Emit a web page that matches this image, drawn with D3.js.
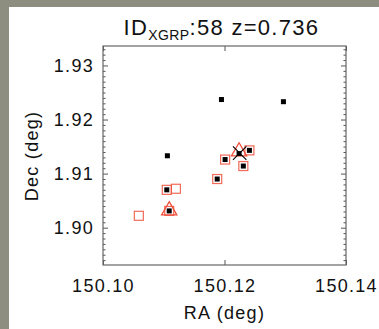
<!DOCTYPE html>
<html>
<head>
<meta charset="utf-8">
<script src="https://cdn.jsdelivr.net/npm/d3@7"></script>
<style>
  body { margin: 0; background: #8d8e80; }
  #wrapper { position: absolute; left: 9px; top: 7px; width: 370px; height: 322px; background: #fff; }
  svg { position: absolute; left: 0; top: 0; }
  text { font-family: "Liberation Sans", Arial, sans-serif; fill: #111; }
</style>
</head>
<body>
<div id="wrapper"></div>
<script>
// members (black filled squares)
const memberRA  = [150.1195, 150.1297, 150.1106, 150.1105, 150.1109, 150.1201, 150.1241, 150.1224, 150.1231, 150.1188]
const memberDec = [1.9237, 1.9233, 1.9133, 1.9070, 1.9031, 1.9126, 1.9143, 1.9137, 1.9114, 1.9090]
// red open squares
const specRA  = [150.1105, 150.1109, 150.1201, 150.1241, 150.1231, 150.1188, 150.1120, 150.1059]
const specDec = [1.9070, 1.9031, 1.9126, 1.9143, 1.9114, 1.9090, 1.9072, 1.9022]
// red triangles
const triRA  = [150.1109, 150.1224]
const triDec = [1.9030, 1.9139]
// black cross (centre)
const crossRA  = [150.1225]
const crossDec = [1.9138]

const xTicks = [150.10, 150.12, 150.14]
const yTicks = [1.90, 1.91, 1.92, 1.93]
const title = { main: "ID", sub: "XGRP", rest: ":58 z=0.736" }

async function drawChart() {
    let dimensions = {
        width: 370,
        height: 322,
        margins: { top: 39, right: 33, bottom: 64, left: 94 }
    }
    dimensions.boundedWidth = dimensions.width - dimensions.margins.left - dimensions.margins.right
    dimensions.boundedHeight = dimensions.height - dimensions.margins.top - dimensions.margins.bottom

    const wrapper = d3.select("#wrapper")
        .append("svg")
            .attr("width", dimensions.width)
            .attr("height", dimensions.height)

    const bounds = wrapper.append("g")
        .attr("transform", `translate(${dimensions.margins.left},${dimensions.margins.top})`)

    const xScale = d3.scaleLinear()
        .domain([150.10, 150.14])
        .range([0, dimensions.boundedWidth])
    const yScale = d3.scaleLinear()
        .domain([1.8931, 1.9336])
        .range([dimensions.boundedHeight, 0])

    const minorY = d3.range(1894, 1934).map(d => d / 1000).filter(d => !yTicks.some(t => Math.abs(t - d) < 1e-6))

    const fontSize = 18, spacing = 1.3

    const axisStyle = g => {
        g.select(".domain").remove()
        g.selectAll("line").attr("stroke", "#555").attr("stroke-width", 1)
        g.selectAll("text").attr("font-size", fontSize).attr("letter-spacing", spacing).attr("fill", "#111")
    }

    // minor y ticks both sides
    bounds.append("g").call(d3.axisLeft(yScale).tickValues(minorY).tickSize(-2.5).tickFormat(""))
        .call(axisStyle)
    bounds.append("g").attr("transform", `translate(${dimensions.boundedWidth},0)`)
        .call(d3.axisRight(yScale).tickValues(minorY).tickSize(-2.5).tickFormat(""))
        .call(axisStyle)
    // major y ticks
    bounds.append("g").call(d3.axisLeft(yScale).tickValues(yTicks).tickSize(-5).tickPadding(9).tickFormat(d3.format(".2f")))
        .call(axisStyle)
    bounds.append("g").attr("transform", `translate(${dimensions.boundedWidth},0)`)
        .call(d3.axisRight(yScale).tickValues(yTicks).tickSize(-5).tickFormat(""))
        .call(axisStyle)
    // x ticks
    bounds.append("g").attr("transform", `translate(0,${dimensions.boundedHeight})`)
        .call(d3.axisBottom(xScale).tickValues(xTicks).tickSize(-5).tickPadding(14).tickFormat(d3.format(".2f")))
        .call(axisStyle)
    bounds.append("g")
        .call(d3.axisTop(xScale).tickValues(xTicks).tickSize(-5).tickFormat(""))
        .call(axisStyle)

    // frame
    bounds.append("rect")
        .attr("width", dimensions.boundedWidth)
        .attr("height", dimensions.boundedHeight)
        .attr("fill", "none")
        .attr("stroke", "#666")
        .attr("stroke-width", 1.2)

    const red = "#f0503c"

    // red open squares
    bounds.selectAll(".spec").data(specRA).join("rect")
        .attr("x", (d, i) => xScale(d) - 4.5)
        .attr("y", (d, i) => yScale(specDec[i]) - 4.5)
        .attr("width", 9).attr("height", 9)
        .attr("fill", "none").attr("stroke", red).attr("stroke-width", 1.2).attr("opacity", 0.85)

    // red triangles
    const tri = d3.symbol().type(d3.symbolTriangle).size(100)
    bounds.selectAll(".tri").data(triRA).join("path")
        .attr("d", tri)
        .attr("transform", (d, i) => `translate(${xScale(d)},${yScale(triDec[i]) - 1})`)
        .attr("fill", "none").attr("stroke", red).attr("stroke-width", 1.3)

    // black member squares
    bounds.selectAll(".mem").data(memberRA).join("rect")
        .attr("x", d => xScale(d) - 2.5)
        .attr("y", (d, i) => yScale(memberDec[i]) - 2.5)
        .attr("width", 5).attr("height", 5)
        .attr("fill", "#000")

    // cross
    const cross = d3.symbol().type(d3.symbolX).size(120)
    bounds.selectAll(".cross").data(crossRA).join("path")
        .attr("d", cross)
        .attr("transform", (d, i) => `translate(${xScale(d)},${yScale(crossDec[i])})`)
        .attr("fill", "none").attr("stroke", "#000").attr("stroke-width", 1.1)

    // labels
    wrapper.append("text")
        .attr("x", dimensions.margins.left + dimensions.boundedWidth / 2)
        .attr("y", dimensions.height - 10)
        .attr("text-anchor", "middle")
        .attr("font-size", fontSize).attr("letter-spacing", spacing)
        .text("RA (deg)")
    wrapper.append("text")
        .attr("transform", `translate(29,${dimensions.margins.top + 110}) rotate(-90)`)
        .attr("text-anchor", "middle")
        .attr("font-size", fontSize).attr("letter-spacing", spacing)
        .text("Dec (deg)")

    const t = wrapper.append("text")
        .attr("x", dimensions.margins.left + dimensions.boundedWidth / 2 - 3)
        .attr("y", 28)
        .attr("text-anchor", "middle")
        .attr("font-size", 22).attr("letter-spacing", 1.3)
    t.append("tspan").text(title.main)
    t.append("tspan").attr("font-size", 14).attr("dy", 5).attr("letter-spacing", 0.4).text(title.sub)
    t.append("tspan").attr("dy", -5).text(title.rest)
}

drawChart();
</script>
</body>
</html>
